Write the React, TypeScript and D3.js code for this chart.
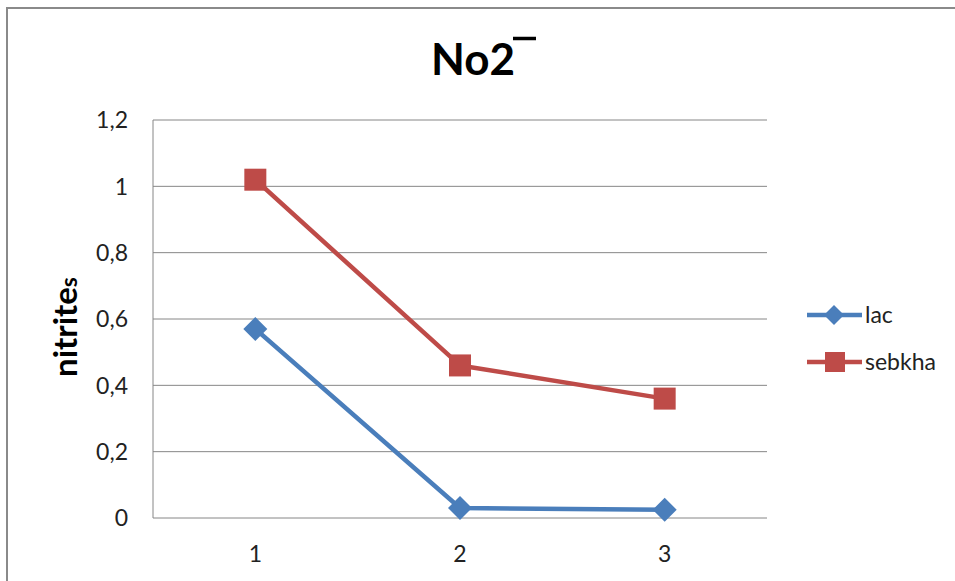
import React from "react";
import * as d3 from "d3";

const categories = ["1", "2", "3"];
const lacValues = [0.57, 0.03, 0.025];
const sebkhaValues = [1.02, 0.46, 0.36];
const yTicks = [0, 0.2, 0.4, 0.6, 0.8, 1, 1.2];
const seriesNames = ["lac", "sebkha"];

const FONT = "Lato, 'Open Sans', 'Noto Sans', sans-serif";
const BLUE = "#4A7EBB";
const RED = "#BE4B48";

export default function App() {
  const W = 955, H = 581;
  const left = 153, right = 767, top = 120, bottom = 518;
  const x = d3.scaleBand<string>().domain(categories).range([left, right]);
  const y = d3.scaleLinear().domain([0, 1.2]).range([bottom, top]);
  const cx = (c: string) => (x(c) as number) + x.bandwidth() / 2;
  const line = d3
    .line<number>()
    .x((_, i) => cx(categories[i]))
    .y((d) => y(d));
  const fmt = (v: number) => String(+v.toFixed(1)).replace(".", ",");

  const diamond = (px: number, py: number, r: number) =>
    `M${px},${py - r}L${px + r},${py}L${px},${py + r}L${px - r},${py}Z`;

  return (
    <svg
      width={W}
      height={H}
      style={{ position: "absolute", left: 0, top: 0, background: "#fff" }}
      fontFamily={FONT}
    >
      <rect x={0} y={0} width={W} height={H} fill="#fff" />
      {/* outer border */}
      <path d={`M7,${H}V8H${W}`} fill="none" stroke="#8a8a8a" strokeWidth={2} />
      {/* title */}
      <text x={431} y={75} textAnchor="start" fontSize={44} fontWeight="bold" fill="#000">
        No2
      </text>
      <line x1={513} x2={536} y1={38.5} y2={38.5} stroke="#000" strokeWidth={3.5} />
      {/* gridlines */}
      {yTicks.map((t) => (
        <line key={t} x1={left} x2={right} y1={y(t)} y2={y(t)} stroke="#868686" strokeWidth={1} />
      ))}
      <line x1={left} x2={left} y1={top} y2={bottom} stroke="#868686" strokeWidth={1} />
      {/* y tick labels */}
      {yTicks.map((t) => (
        <text key={t} x={128} y={y(t)} dy="0.36em" textAnchor="end" fontSize={23} fill="#222">
          {fmt(t)}
        </text>
      ))}
      {/* x tick labels */}
      {categories.map((c) => (
        <text key={c} x={cx(c)} y={554} dy="0.36em" textAnchor="middle" fontSize={23} fill="#222">
          {c}
        </text>
      ))}
      {/* y axis title */}
      <text
        transform={`translate(77,${(top + bottom) / 2 + 8}) rotate(-90)`}
        textAnchor="middle"
        fontSize={33}
        fontWeight="bold"
        fill="#000"
      >
        nitrite<tspan fontSize={23}>s</tspan>
      </text>
      {/* series */}
      <path d={line(lacValues) || ""} fill="none" stroke={BLUE} strokeWidth={4.5} strokeLinejoin="round" />
      <path d={line(sebkhaValues) || ""} fill="none" stroke={RED} strokeWidth={4.5} strokeLinejoin="round" />
      {lacValues.map((v, i) => (
        <path key={i} d={diamond(cx(categories[i]), y(v), 12)} fill={BLUE} />
      ))}
      {sebkhaValues.map((v, i) => (
        <rect key={i} x={cx(categories[i]) - 11} y={y(v) - 11} width={22} height={22} fill={RED} />
      ))}
      {/* legend */}
      {seriesNames.map((n, i) => {
        const ly = 315 + i * 47;
        const col = i === 0 ? BLUE : RED;
        return (
          <g key={n}>
            <line x1={807} x2={862} y1={ly} y2={ly} stroke={col} strokeWidth={4.5} />
            {i === 0 ? (
              <path d={diamond(834, ly, 10)} fill={col} />
            ) : (
              <rect x={825} y={ly - 10} width={20} height={20} fill={col} />
            )}
            <text x={865} y={ly} dy="0.36em" fontSize={23} fill="#222">
              {n}
            </text>
          </g>
        );
      })}
    </svg>
  );
}
